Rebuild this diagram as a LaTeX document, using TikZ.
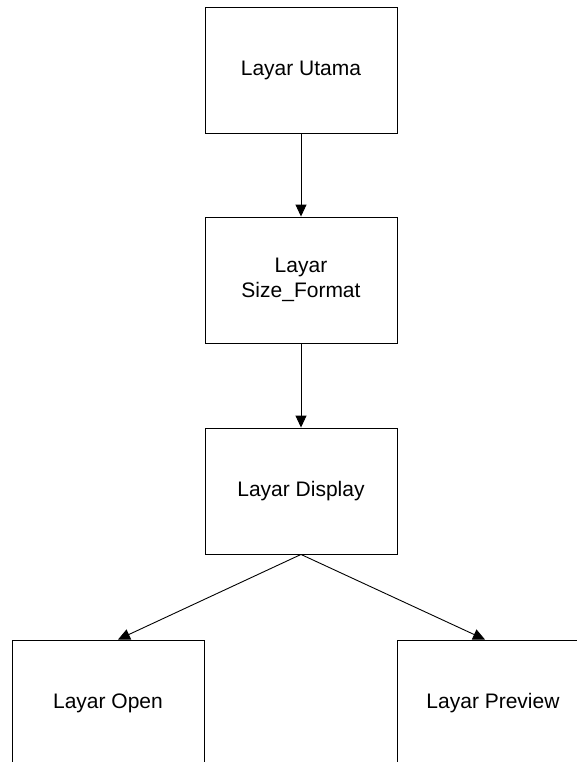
\documentclass[tikz,border=0pt]{standalone}
\usepackage{fontspec}
\setmainfont{Liberation Sans}
\usetikzlibrary{arrows.meta}
\begin{document}
\begin{tikzpicture}[x=1pt,y=1pt,
  screenbox/.style={draw=black, line width=0.9pt, rectangle, minimum width=192pt, minimum height=126pt, align=center, font=\fontsize{21}{25}\selectfont, inner sep=0pt},
  flow/.style={draw=black, line width=0.9pt, -{Triangle[length=12pt,width=11pt]}}]
\useasboundingbox (0,0) rectangle (577,-762);
\clip (0,0) rectangle (577,-762);
\node[screenbox] (utama) at (301,-70) {Layar Utama};
\node[screenbox] (size) at (301,-280) {Layar\\Size\_Format};
\node[screenbox] (display) at (301,-491) {Layar Display};
\node[screenbox] (open) at (108,-703) {Layar Open};
\node[screenbox] (preview) at (493,-703) {Layar Preview};
\draw[flow] (utama.south) -- (size.north);
\draw[flow] (size.south) -- (display.north);
\draw[flow] (display.south) -- ([xshift=10pt]open.north);
\draw[flow] (display.south) -- ([xshift=-8pt]preview.north);
\end{tikzpicture}
\end{document}
